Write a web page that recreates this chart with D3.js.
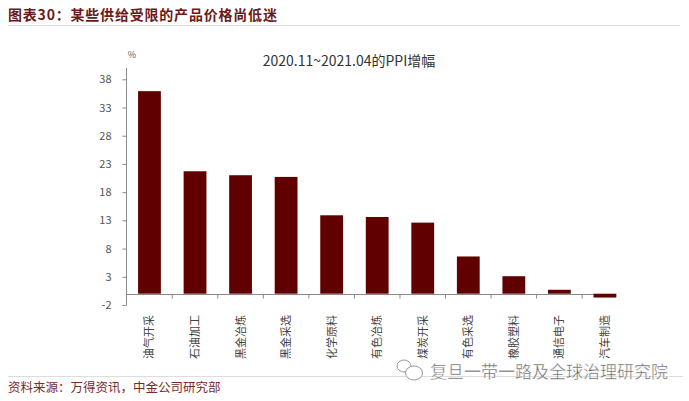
<!DOCTYPE html>
<html><head><meta charset="utf-8">
<script src="https://cdn.jsdelivr.net/npm/d3@7"></script>
<style>html,body{margin:0;padding:0;background:#fff}svg{display:block}text{font-family:"Noto Sans CJK SC","Noto Sans",sans-serif}</style>
</head><body><svg id="c" width="689" height="401"></svg>
<script>
const categories=["油气开采","石油加工","黑金冶炼","黑金采选","化学原料","有色冶炼","煤炭开采","有色采选","橡胶塑料","通信电子","汽车制造"];
const values=[35.9,21.7,21.0,20.7,13.9,13.6,12.6,6.6,3.1,0.7,-0.5];
const yTicks=[38,33,28,23,18,13,8,3,-2];
const heading="图表30：某些供给受限的产品价格尚低迷";
const chartTitle="2020.11~2021.04的PPI增幅";
const source="资料来源：万得资讯，中金公司研究部";
const watermark="复旦一带一路及全球治理研究院";
const svg=d3.select("#c");
const axisC="#8a8a8a",txt="#555";
const band=d3.scaleBand().domain(categories).range([126.7,627.7]);
const y=d3.scaleLinear().domain([-2,38]).range([305,79.3]);
svg.append("text").attr("x",8).attr("y",20).attr("font-size",14).attr("font-weight",700).attr("letter-spacing",0.8).attr("fill","#6b1a1a").text(heading);
svg.append("line").attr("x1",8).attr("x2",680).attr("y1",25.5).attr("y2",25.5).attr("stroke","#ddd");
svg.append("text").attr("x",349).attr("y",66).attr("text-anchor","middle").attr("font-size",14).attr("fill","#333").text(chartTitle);
svg.append("text").attr("x",132).attr("y",58).attr("text-anchor","middle").attr("font-size",9).attr("fill",txt).text("%");
const gy=svg.append("g").attr("transform","translate(126.5,0)").call(d3.axisLeft(y).tickValues(yTicks).tickSize(4).tickPadding(11).tickFormat(d=>String(d)));
gy.select(".domain").remove();
gy.append("line").attr("y1",68).attr("y2",305).attr("stroke",axisC);
gy.selectAll(".tick line").attr("stroke",axisC);
gy.selectAll("text").attr("fill",txt).attr("font-size",11);
const base=Math.round(y(0))+0.5;
svg.append("line").attr("x1",126).attr("x2",616).attr("y1",base).attr("y2",base).attr("stroke",axisC);
svg.selectAll("line.t").data(categories.slice(0,-1)).join("line").attr("class","t")
 .attr("x1",d=>band(d)+band.bandwidth()).attr("x2",d=>band(d)+band.bandwidth()).attr("y1",base).attr("y2",base+4).attr("stroke",axisC);
svg.selectAll("rect.b").data(categories).join("rect").attr("class","b")
 .attr("x",d=>band(d)+band.bandwidth()/2-11.4).attr("width",22.8)
 .attr("y",(d,i)=>y(Math.max(0,values[i]))).attr("height",(d,i)=>Math.abs(y(values[i])-y(0))+(values[i]<0?1:0))
 .attr("fill","#600000");
svg.selectAll("text.c").data(categories).join("text").attr("class","c")
 .attr("transform",d=>`translate(${band(d)+band.bandwidth()/2+4},359) rotate(-90)`)
 .attr("font-size",11).attr("fill","#444").text(d=>d);
svg.append("line").attr("x1",8).attr("x2",683).attr("y1",376.5).attr("y2",376.5).attr("stroke","#ddd");
svg.append("text").attr("x",8).attr("y",392).attr("font-size",12.5).attr("fill","#7a2a2a").text(source);
svg.append("text").attr("x",430).attr("y",378).attr("font-size",17).attr("fill","#666").attr("stroke","#fff").attr("stroke-width",.4).text(watermark);
const w=svg.append("g").attr("fill","#fff").attr("stroke","#999");
w.append("ellipse").attr("cx",404).attr("cy",366).attr("rx",7).attr("ry",6);
w.append("ellipse").attr("cx",414).attr("cy",373).attr("rx",8.5).attr("ry",7);
</script></body></html>
